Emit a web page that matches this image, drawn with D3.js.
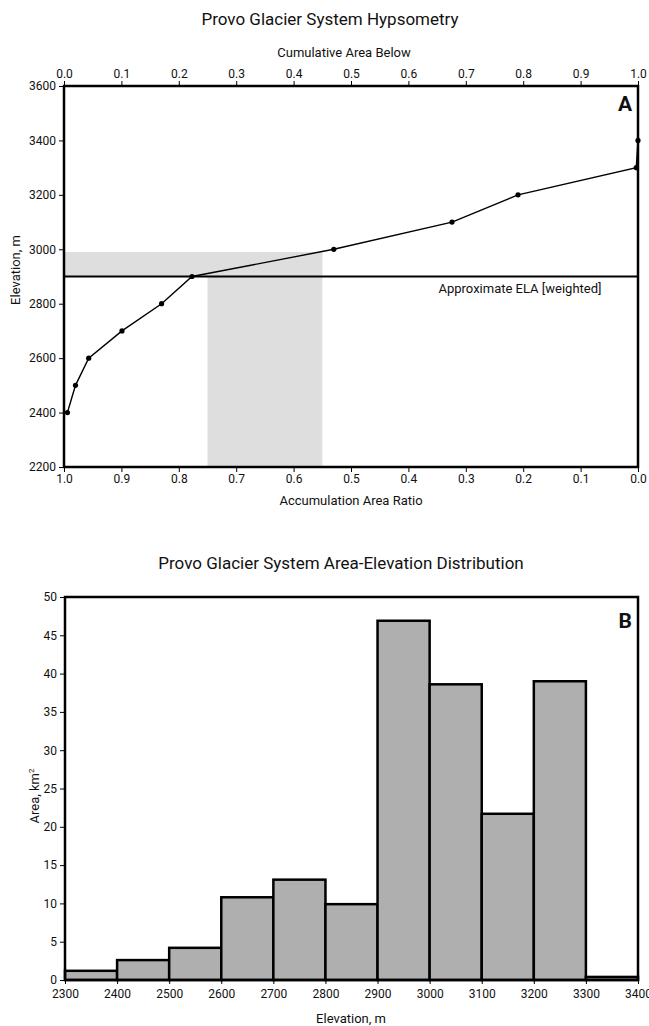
<!DOCTYPE html>
<html>
<head>
<meta charset="utf-8">
<script src="https://cdn.jsdelivr.net/npm/d3@7"></script>
<style>
  body { margin: 0; background: #fff; }
  svg { display: block; }
  text { font-family: "Liberation Sans Narrow", "Arial Narrow", "Roboto", sans-serif; fill: #111; }
  .tick line { stroke: #000; stroke-width: 1; }
  .tick text { font-size: 12px; }
</style>
</head>
<body>
<div id="chart"></div>
<script>
// Panel A - hypsometry (elevation vs cumulative area below)
var elevations = [2400, 2500, 2600, 2700, 2800, 2900, 3000, 3100, 3200, 3300, 3400];
var cumArea = [0.006, 0.020, 0.043, 0.101, 0.170, 0.223, 0.470, 0.676, 0.791, 0.997, 1.0];
var elaElevation = 2900;
var aarBand = [0.55, 0.75];
var shadeTop = 2990;
var elevTicks = [2200, 2400, 2600, 2800, 3000, 3200, 3400, 3600];
var ratioTicks = [0, 0.1, 0.2, 0.3, 0.4, 0.5, 0.6, 0.7, 0.8, 0.9, 1.0];

// Panel B - area per 100 m elevation bin
var binStarts = [2300, 2400, 2500, 2600, 2700, 2800, 2900, 3000, 3100, 3200, 3300];
var binArea = [1.2, 2.6, 4.2, 10.8, 13.1, 9.9, 46.9, 38.6, 21.7, 39.0, 0.4];
var binTicks = [2300, 2400, 2500, 2600, 2700, 2800, 2900, 3000, 3100, 3200, 3300, 3400];
var areaTicks = [0, 5, 10, 15, 20, 25, 30, 35, 40, 45, 50];

function init() {
  var width = 649, height = 1026;
  var left = 64, right = 638;

  var svg = d3.select('#chart')
    .append('svg')
    .attr('width', width)
    .attr('height', height);

  // ---------- Panel A ----------
  var aTop = 86, aBottom = 467;

  var xCum = d3.scaleLinear().domain([0, 1]).range([left, right]);
  var xAar = d3.scaleLinear().domain([1, 0]).range([left, right]);
  var yElev = d3.scaleLinear().domain([2200, 3600]).range([aBottom, aTop]);

  var gA = svg.append('g');

  // shaded AAR band (L shape)
  gA.append('rect')
    .attr('x', xCum(0))
    .attr('y', yElev(shadeTop))
    .attr('width', xAar(aarBand[0]) - xCum(0))
    .attr('height', yElev(elaElevation) - yElev(shadeTop))
    .attr('fill', '#dedede');
  gA.append('rect')
    .attr('x', xAar(aarBand[1]))
    .attr('y', yElev(shadeTop))
    .attr('width', xAar(aarBand[0]) - xAar(aarBand[1]))
    .attr('height', yElev(2200) - yElev(shadeTop))
    .attr('fill', '#dedede');

  // ELA line
  gA.append('line')
    .attr('x1', left).attr('x2', right)
    .attr('y1', yElev(elaElevation)).attr('y2', yElev(elaElevation))
    .attr('stroke', '#000')
    .attr('stroke-width', 2);
  gA.append('text')
    .attr('x', 520)
    .attr('y', yElev(elaElevation) + 16)
    .attr('text-anchor', 'middle')
    .style('font-size', '13px')
    .text('Approximate ELA [weighted]');

  var pts = elevations.map(function (e, i) { return [cumArea[i], e]; });

  var line = d3.line()
    .x(function (d) { return xCum(d[0]); })
    .y(function (d) { return yElev(d[1]); });

  gA.append('path')
    .datum(pts)
    .attr('fill', 'none')
    .attr('stroke', '#000')
    .attr('stroke-width', 1.4)
    .attr('d', line);

  gA.selectAll('circle')
    .data(pts)
    .enter()
    .append('circle')
    .attr('cx', function (d) { return xCum(d[0]); })
    .attr('cy', function (d) { return yElev(d[1]); })
    .attr('r', 2.6)
    .attr('fill', '#000');

  // axes
  svg.append('g')
    .attr('transform', 'translate(' + left + ',0)')
    .call(d3.axisLeft(yElev).tickValues(elevTicks).tickSize(5).tickPadding(3).tickFormat(d3.format('d')))
    .call(function (g) { g.select('.domain').remove(); });

  svg.append('g')
    .attr('transform', 'translate(0,' + aTop + ')')
    .call(d3.axisTop(xCum).tickValues(ratioTicks).tickSize(5).tickPadding(3).tickFormat(d3.format('.1f')))
    .call(function (g) { g.select('.domain').remove(); });

  svg.append('g')
    .attr('transform', 'translate(0,' + aBottom + ')')
    .call(d3.axisBottom(xAar).tickValues(ratioTicks).tickSize(5).tickPadding(2).tickFormat(d3.format('.1f')))
    .call(function (g) { g.select('.domain').remove(); });

  // frame
  svg.append('rect')
    .attr('x', left).attr('y', aTop)
    .attr('width', right - left).attr('height', aBottom - aTop)
    .attr('fill', 'none')
    .attr('stroke', '#000')
    .attr('stroke-width', 2.5);

  // titles
  svg.append('text')
    .attr('x', 330).attr('y', 25)
    .attr('text-anchor', 'middle')
    .style('font-size', '17px')
    .text('Provo Glacier System Hypsometry');
  svg.append('text')
    .attr('x', 344).attr('y', 57)
    .attr('text-anchor', 'middle')
    .style('font-size', '13px')
    .text('Cumulative Area Below');
  svg.append('text')
    .attr('x', 351).attr('y', 505)
    .attr('text-anchor', 'middle')
    .style('font-size', '13px')
    .text('Accumulation Area Ratio');
  svg.append('text')
    .attr('transform', 'translate(20,270) rotate(-90)')
    .attr('text-anchor', 'middle')
    .style('font-size', '13px')
    .text('Elevation, m');
  svg.append('text')
    .attr('x', 632).attr('y', 111)
    .attr('text-anchor', 'end')
    .style('font-size', '21px')
    .style('font-weight', 'bold')
    .text('A');

  // ---------- Panel B ----------
  var bTop = 597, bBottom = 980;

  var xBin = d3.scaleLinear().domain([2300, 3400]).range([left + 1, right]);
  var yArea = d3.scaleLinear().domain([0, 50]).range([bBottom, bTop]);

  var gB = svg.append('g');

  gB.selectAll('rect')
    .data(binStarts)
    .enter()
    .append('rect')
    .attr('x', function (d) { return xBin(d); })
    .attr('y', function (d, i) { return yArea(binArea[i]); })
    .attr('width', function (d) { return xBin(d + 100) - xBin(d); })
    .attr('height', function (d, i) { return yArea(0) - yArea(binArea[i]); })
    .attr('fill', '#afafaf')
    .attr('stroke', '#000')
    .attr('stroke-width', 2.5);

  svg.append('g')
    .attr('transform', 'translate(' + (left + 1) + ',0)')
    .call(d3.axisLeft(yArea).tickValues(areaTicks).tickSize(5).tickPadding(3))
    .call(function (g) { g.select('.domain').remove(); });

  svg.append('g')
    .attr('transform', 'translate(0,' + bBottom + ')')
    .call(d3.axisBottom(xBin).tickValues(binTicks).tickSize(4).tickPadding(5).tickFormat(d3.format('d')))
    .call(function (g) { g.select('.domain').remove(); });

  svg.append('rect')
    .attr('x', left + 1).attr('y', bTop)
    .attr('width', right - left - 1).attr('height', bBottom - bTop)
    .attr('fill', 'none')
    .attr('stroke', '#000')
    .attr('stroke-width', 2.5);

  svg.append('text')
    .attr('x', 341).attr('y', 569)
    .attr('text-anchor', 'middle')
    .style('font-size', '17px')
    .text('Provo Glacier System Area-Elevation Distribution');
  svg.append('text')
    .attr('x', 351).attr('y', 1023)
    .attr('text-anchor', 'middle')
    .style('font-size', '13px')
    .text('Elevation, m');

  var yLab = svg.append('text')
    .attr('transform', 'translate(39,796) rotate(-90)')
    .attr('text-anchor', 'middle')
    .style('font-size', '13px');
  yLab.append('tspan').text('Area, km');
  yLab.append('tspan').attr('dy', -5).style('font-size', '8px').text('2');

  svg.append('text')
    .attr('x', 632).attr('y', 628)
    .attr('text-anchor', 'end')
    .style('font-size', '21px')
    .style('font-weight', 'bold')
    .text('B');
}

window.onload = init;
</script>
</body>
</html>
